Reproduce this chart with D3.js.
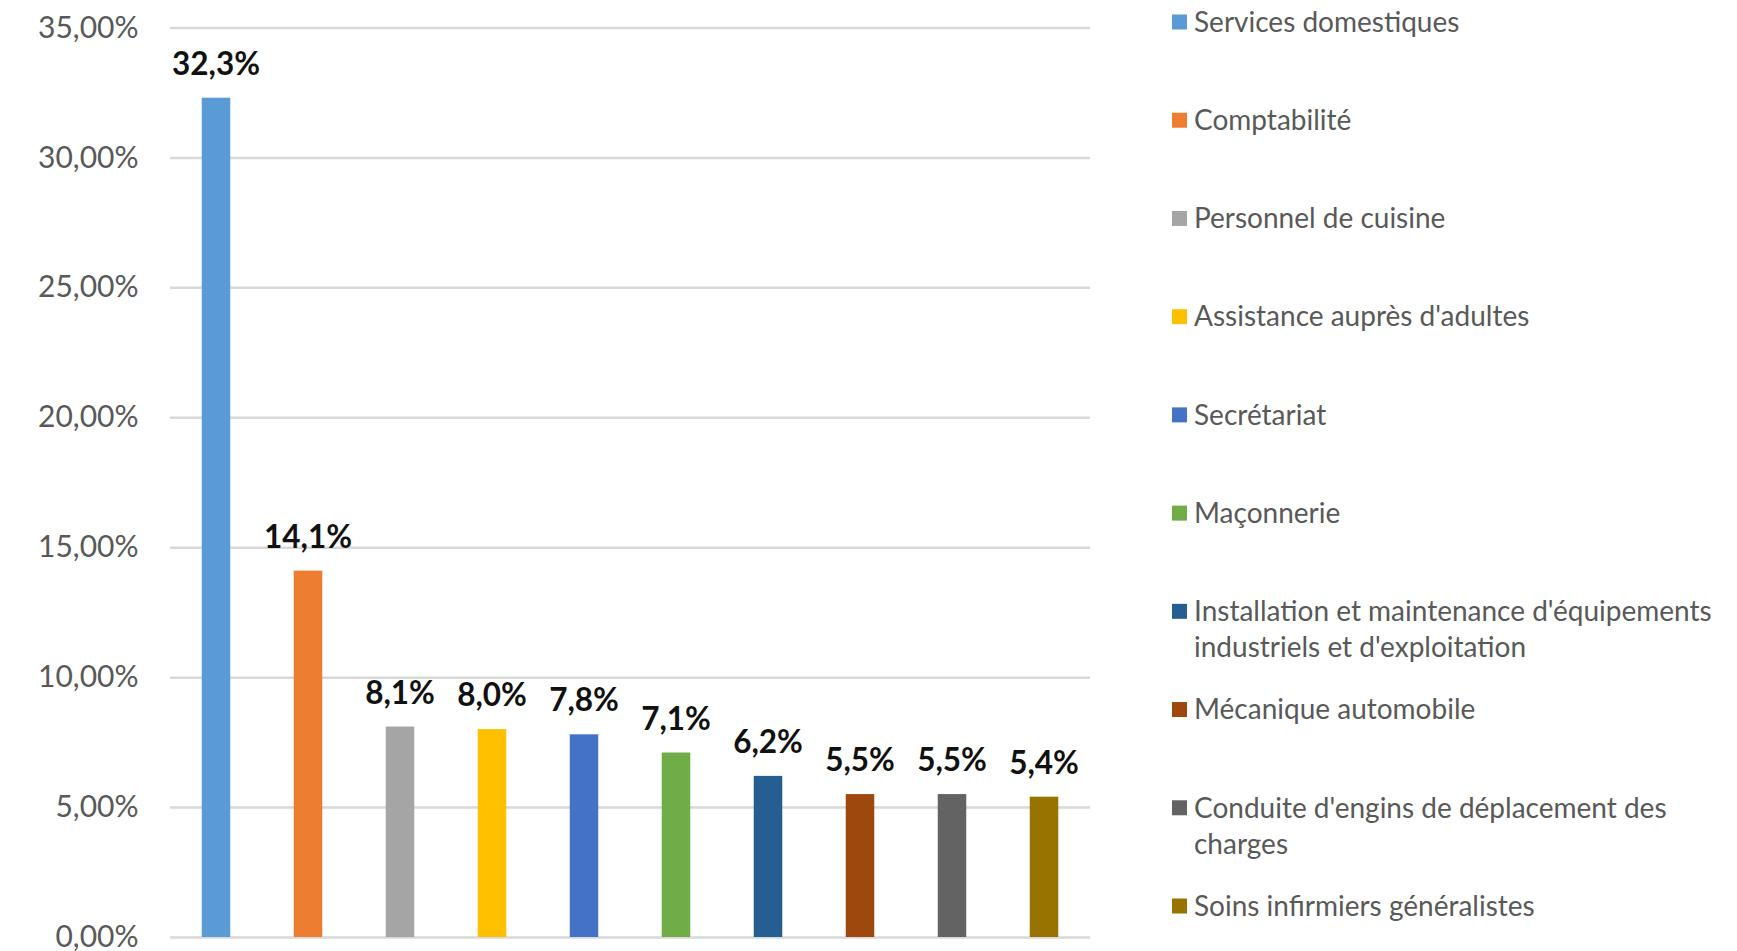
<!DOCTYPE html>
<html>
<head>
<meta charset="utf-8">
<script src="https://cdn.jsdelivr.net/npm/d3@7"></script>
<style>
  html, body { margin: 0; padding: 0; background: #ffffff; }
  svg { display: block; }
  text { font-family: Lato, "Open Sans", sans-serif; }
</style>
</head>
<body>
<script>
// ---- data ----
const categories = [
  "Services domestiques",
  "Comptabilité",
  "Personnel de cuisine",
  "Assistance auprès d'adultes",
  "Secrétariat",
  "Maçonnerie",
  "Installation et maintenance d'équipements\nindustriels et d'exploitation",
  "Mécanique automobile",
  "Conduite d'engins de déplacement des\ncharges",
  "Soins infirmiers généralistes"
];
const values = [32.3, 14.1, 8.1, 8.0, 7.8, 7.1, 6.2, 5.5, 5.5, 5.4];
const colors = ["#5B9BD5", "#ED7D31", "#A5A5A5", "#FFC000", "#4472C4",
                "#70AD47", "#255E91", "#9E480E", "#636363", "#997300"];
const yTicks = [0, 5, 10, 15, 20, 25, 30, 35];

// ---- layout ----
const W = 1737, H = 951;
const plot = { left: 170, right: 1090, top: 27.5, bottom: 937 };

const fr = d3.formatLocale({ decimal: ",", thousands: " ", grouping: [3], currency: ["", " €"] });
const fmtTick = v => fr.format(".2f")(v) + "%";
const fmtLabel = v => fr.format(".1f")(v) + "%";

const svg = d3.select("body").append("svg").attr("width", W).attr("height", H);

const x = d3.scaleBand().domain(categories).range([plot.left, plot.right])
  .paddingInner(0.69).paddingOuter(0.345);
const y = d3.scaleLinear().domain([0, 35]).range([plot.bottom, plot.top]);

// gridlines + tick labels via axis
const yAxis = d3.axisLeft(y).tickValues(yTicks).tickFormat(fmtTick)
  .tickSize(-(plot.right - plot.left)).tickPadding(31.5);
const gy = svg.append("g").attr("transform", `translate(${plot.left},0)`).call(yAxis);
gy.select(".domain").remove();
gy.selectAll(".tick line").attr("stroke", "#D9D9D9").attr("stroke-width", 2.5);
gy.selectAll(".tick text").attr("fill", "#595959").attr("font-size", 30)
  .attr("font-family", "Lato, 'Open Sans', sans-serif");

// bars
svg.append("g").selectAll("rect").data(categories).join("rect")
  .attr("x", d => x(d))
  .attr("width", x.bandwidth())
  .attr("y", (d, i) => y(values[i]))
  .attr("height", (d, i) => y(0) - y(values[i]))
  .attr("fill", (d, i) => colors[i]);

// data labels
svg.append("g").selectAll("text").data(categories).join("text")
  .attr("x", d => x(d) + x.bandwidth() / 2)
  .attr("y", (d, i) => y(values[i]) - 23)
  .attr("text-anchor", "middle")
  .attr("font-size", 31.5)
  .attr("font-weight", "bold")
  .attr("fill", "#111111")
  .text((d, i) => fmtLabel(values[i]));

// legend
const legY = d3.scalePoint().domain(categories).range([22, 906]);
const leg = svg.append("g").selectAll("g").data(categories).join("g")
  .attr("transform", d => `translate(1172,${legY(d)})`);
leg.append("rect").attr("x", 0).attr("y", -7.5).attr("width", 15).attr("height", 15)
  .attr("fill", (d, i) => colors[i]);
leg.each(function (d) {
  const t = d3.select(this).append("text")
    .attr("x", 22).attr("y", 0).attr("fill", "#595959").attr("font-size", 28);
  d.split("\n").forEach((line, k) => {
    t.append("tspan").attr("x", 22).attr("y", k * 36).attr("dy", "0.35em").text(line);
  });
});
</script>
</body>
</html>
